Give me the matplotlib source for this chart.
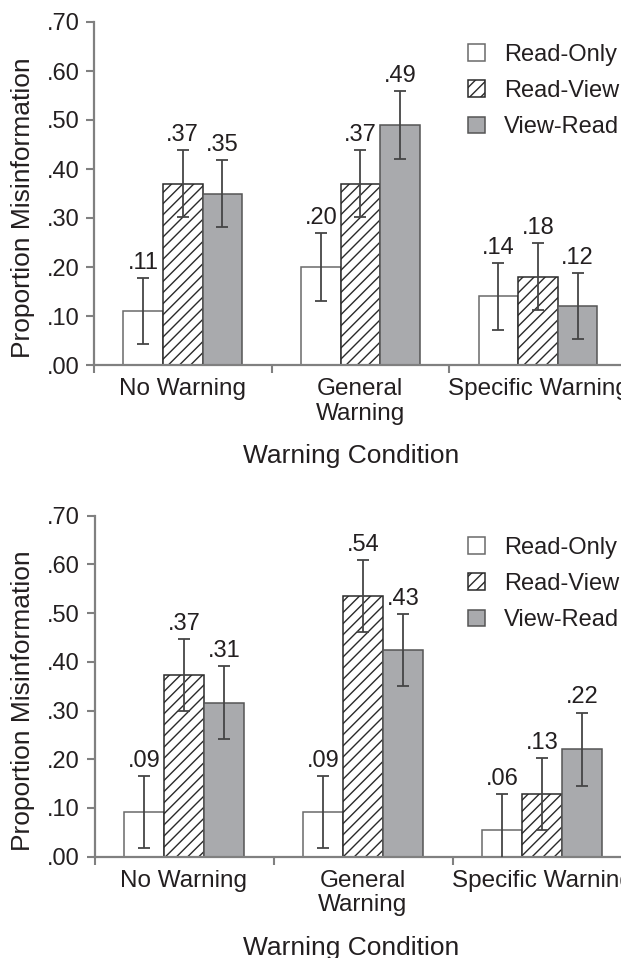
import numpy as np
import matplotlib
matplotlib.use("Agg")
import matplotlib.pyplot as plt
from matplotlib.patches import Patch

plt.rcParams['font.family'] = ['Liberation Sans', 'DejaVu Sans']
plt.rcParams['hatch.linewidth'] = 1.0

# data
conditions = ["No Warning", "General\nWarning", "Specific Warning"]
series = ["Read-Only", "Read-View", "View-Read"]

# panel 1
top_means = [[0.11, 0.37, 0.35],
             [0.20, 0.37, 0.49],
             [0.14, 0.18, 0.12]]
top_err = [[0.068, 0.068, 0.068],
           [0.069, 0.068, 0.069],
           [0.068, 0.068, 0.067]]
top_labels = [[".11", ".37", ".35"],
              [".20", ".37", ".49"],
              [".14", ".18", ".12"]]

# panel 2
bot_means = [[0.092, 0.373, 0.316],
             [0.092, 0.536, 0.424],
             [0.055, 0.129, 0.221]]
bot_err = [[0.074, 0.074, 0.075],
           [0.074, 0.074, 0.074],
           [0.074, 0.074, 0.075]]
bot_labels = [[".09", ".37", ".31"],
              [".09", ".54", ".43"],
              [".06", ".13", ".22"]]

yticks = [0, 0.1, 0.2, 0.3, 0.4, 0.5, 0.6, 0.7]
ytick_labels = [".00", ".10", ".20", ".30", ".40", ".50", ".60", ".70"]

txt = '#231f20'
fills = ['white', 'white', '#a9aaad']
edges = ['#6a6a6a', '#2a2a2a', '#555555']
hatches = [None, '///', None]

W, H = 621, 958
fig = plt.figure(figsize=(W / 100, H / 100), dpi=100)


def draw_panel(rect, means, errs, labels, ylab_y, xlab_x, xlab_y, leg_top):
    ax = fig.add_axes(rect)
    means = np.array(means)
    errs = np.array(errs)
    w = 0.223
    x = np.arange(len(conditions))
    for j in range(3):
        pos = x + (j - 1) * w
        ax.bar(pos, means[:, j], width=w, color=fills[j], edgecolor=edges[j],
               hatch=hatches[j], linewidth=1.1, zorder=2)
        ax.errorbar(pos, means[:, j], yerr=errs[:, j], fmt='none',
                    ecolor='#454545', elinewidth=1.3, capsize=4.5, capthick=1.3,
                    zorder=3)
        for k in range(len(conditions)):
            ax.annotate(labels[k][j], (pos[k], means[k, j] + errs[k, j]),
                        xytext=(0, 6.5), textcoords='offset points',
                        ha='center', va='baseline', fontsize=17, color=txt)

    ax.set_xlim(-0.5, 2.5)
    ax.set_ylim(0, 0.70)
    ax.set_yticks(yticks)
    ax.set_yticklabels(ytick_labels)
    ax.set_xticks([-0.5, 0.5, 1.5, 2.5])
    ax.set_xticklabels([])
    ax.set_xticks(x, minor=True)
    ax.set_xticklabels(conditions, minor=True, linespacing=1.15)
    ax.tick_params(axis='x', which='minor', length=0, pad=9.5, labelsize=17.5,
                   labelcolor=txt)
    ax.tick_params(axis='x', which='major', length=6, width=1.5, color='#808080')
    ax.tick_params(axis='y', length=6, width=1.5, color='#808080', pad=4.5,
                   labelsize=17, labelcolor=txt)
    for s in ['top', 'right']:
        ax.spines[s].set_visible(False)
    for s in ['left', 'bottom']:
        ax.spines[s].set_color('#808080')
        ax.spines[s].set_linewidth(1.6)

    ax.text(-0.133, ylab_y, "Proportion Misinformation", rotation=90,
            ha='center', va='center', fontsize=19, color=txt,
            transform=ax.transAxes)
    ax.text(xlab_x, xlab_y, "Warning Condition", ha='center', va='center',
            fontsize=19, color=txt, transform=ax.transAxes)

    handles = [Patch(facecolor=fills[j], edgecolor=edges[j], hatch=hatches[j],
                     linewidth=1.1) for j in range(3)]
    ax.legend(handles, series, loc='upper left', frameon=False,
              bbox_to_anchor=(468 / W, 1 - leg_top / H),
              bbox_transform=fig.transFigure, fontsize=17,
              handlelength=0.72, handleheight=0.72, handletextpad=0.8,
              labelspacing=0.6, borderpad=0, borderaxespad=0,
              labelcolor=txt)
    return ax


draw_panel([94 / W, 1 - 365 / H, (626.75 - 94) / W, 343 / H],
           top_means, top_err, top_labels, 0.46, 0.482, -0.265, 44)
draw_panel([94.5 / W, 1 - 856.7 / H, 537 / W, 341 / H],
           bot_means, bot_err, bot_labels, 0.457, 0.478, -0.268, 537)

fig.savefig("out.png", dpi=100)
